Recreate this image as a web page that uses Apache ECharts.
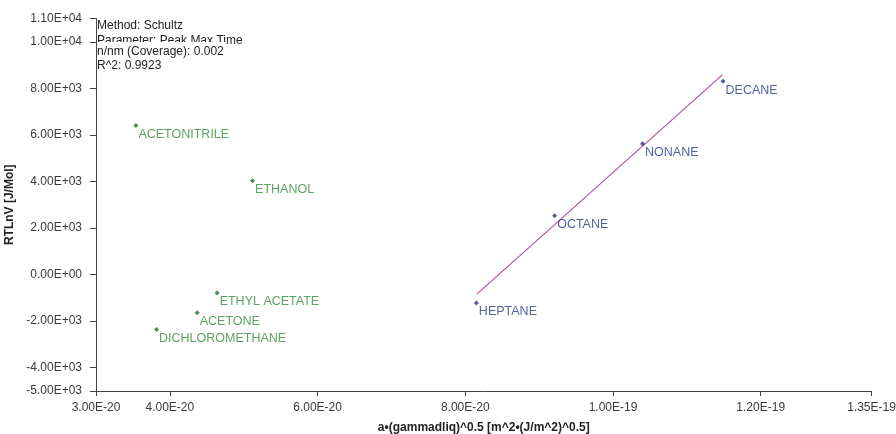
<!DOCTYPE html>
<html><head><meta charset="utf-8">
<script src="https://cdn.jsdelivr.net/npm/echarts@6/dist/echarts.min.js"></script>
<style>html,body{margin:0;padding:0;background:#fff}#c{width:896px;height:434px}</style>
</head><body><div id="c"></div>
<script>
// x values in units of 1E-20
var polarNames = ['ACETONITRILE','ETHANOL','ETHYL ACETATE','ACETONE','DICHLOROMETHANE'];
var polarX = [3.54, 5.12, 4.64, 4.37, 3.82];
var polarY = [6400, 4030, -790, -1640, -2360];
var alkaneNames = ['HEPTANE','OCTANE','NONANE','DECANE'];
var alkaneX = [8.15, 9.21, 10.40, 11.49];
var alkaneY = [-1215, 2530, 5620, 8300];
var fitX = [8.16, 11.48];
var fitY = [-830, 8580];
var xTicks = [3, 4, 6, 8, 10, 12, 13.5];
var yTicks = [-5000, -4000, -2000, 0, 2000, 4000, 6000, 8000, 10000, 11000];
var infoLines = ['Method: Schultz', 'Parameter: Peak Max Time', 'n/nm (Coverage): 0.002', 'R^2: 0.9923'];

function fmtY(v){
  var s = v < 0 ? '-' : ''; var a = Math.abs(v);
  if (a === 0) return '0.00E+00';
  var e = Math.floor(Math.log10(a)); var m = a / Math.pow(10, e);
  return s + m.toFixed(2) + 'E+' + (e < 10 ? '0' + e : e);
}
function fmtX(v){
  var val = v * 1e-20;
  var e = Math.floor(Math.log10(val) + 1e-9); var m = val / Math.pow(10, e);
  return m.toFixed(2) + 'E' + e;
}
var font = 'Liberation Sans, Arial, sans-serif';
var chart = echarts.init(document.getElementById('c'));
function pts(xs, ys, ns){ return xs.map(function(x,i){ return {value:[x, ys[i]], name: ns ? ns[i] : ''}; }); }
chart.setOption({
  animation: false,
  grid: {left: 96, right: 24.5, top: 18.5, bottom: 43, outerBoundsMode: 'none', containLabel: false},
  xAxis: {
    type: 'value', min: 3, max: 13.5,
    name: 'a\u2022(gammadliq)^0.5 [m^2\u2022(J/m^2)^0.5]', nameLocation: 'middle', nameGap: 31,
    nameTextStyle: {fontFamily: font, fontSize: 12, fontWeight: 'bold', color: '#222'},
    axisLine: {onZero: false, lineStyle: {color: '#444', width: 1}},
    axisTick: {show: true, length: 5, lineStyle: {color: '#444'}, customValues: xTicks},
    axisLabel: {customValues: xTicks, formatter: fmtX, fontFamily: font, fontSize: 12, color: '#3a3a3a', margin: 11},
    splitLine: {show: false}
  },
  yAxis: {
    type: 'value', min: -5000, max: 11000,
    name: 'RTLnV [J/Mol]', nameLocation: 'middle', nameGap: 74, nameRotate: 90,
    nameTextStyle: {fontFamily: font, fontSize: 12, fontWeight: 'bold', color: '#222'},
    axisLine: {show: true, onZero: false, lineStyle: {color: '#444', width: 1}},
    axisTick: {show: true, length: 6, lineStyle: {color: '#444'}, customValues: yTicks},
    axisLabel: {customValues: yTicks, formatter: fmtY, fontFamily: font, fontSize: 12, color: '#3a3a3a', margin: 14},
    splitLine: {show: false}
  },
  series: [
    {type: 'line', data: pts(fitX, fitY), symbol: 'none', lineStyle: {color: '#b2509e', width: 1.2}, z: 1},
    {type: 'scatter', data: pts(polarX, polarY, polarNames), symbol: 'diamond', symbolSize: 5,
     itemStyle: {color: '#1f6e2a'},
     label: {show: true, position: 'right', offset: [-5, 9], formatter: '{b}', fontFamily: font, fontSize: 12.5, color: '#358a3b'}},
    {type: 'scatter', data: pts(alkaneX, alkaneY, alkaneNames), symbol: 'diamond', symbolSize: 5,
     itemStyle: {color: '#27358a'},
     label: {show: true, position: 'right', offset: [-5, 9], formatter: '{b}', fontFamily: font, fontSize: 12.5, color: '#283a8a'}}
  ],
  graphic: [
    {type: 'text', left: 97, top: 19.5, style: {text: infoLines[0], font: '12px ' + font, fill: '#222'}},
    {type: 'text', left: 97, top: 35, style: {text: infoLines[1], font: '12px ' + font, fill: '#222'}},
    {type: 'text', left: 97, top: 42, z: 10, style: {text: infoLines[2], font: '12px ' + font, fill: '#222', backgroundColor: '#fff', padding: [4, 2, 0, 0]}},
    {type: 'text', left: 97, top: 59.5, style: {text: infoLines[3], font: '12px ' + font, fill: '#222'}}
  ]
});
</script></body></html>
